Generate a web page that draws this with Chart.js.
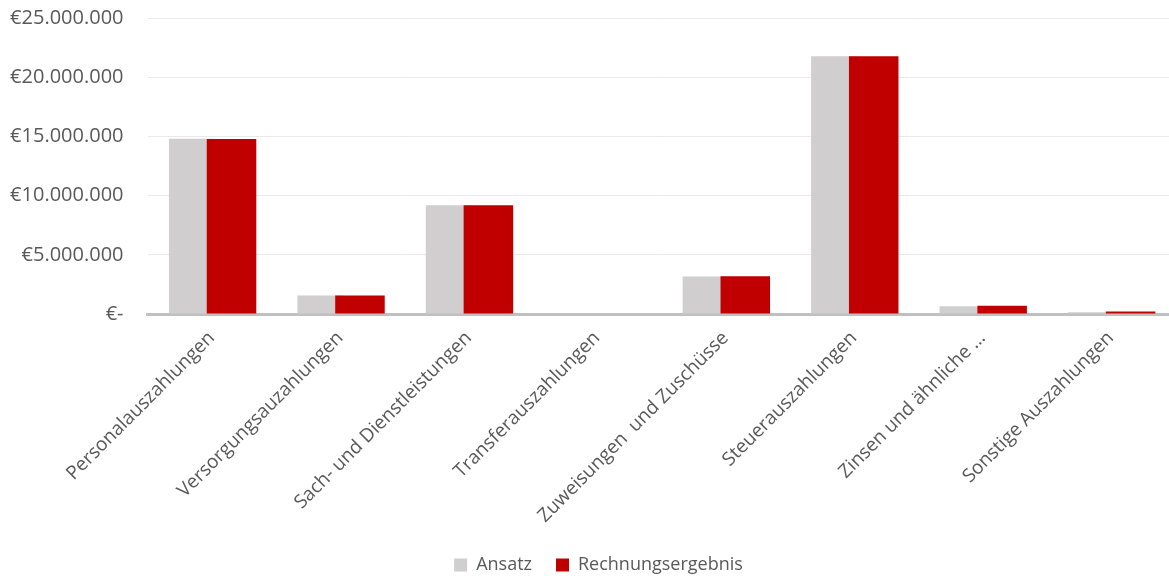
<!DOCTYPE html>
<html>
<head>
<meta charset="utf-8">
<script src="https://cdn.jsdelivr.net/npm/chart.js@4"></script>
<style>
  html, body { margin: 0; padding: 0; background: #fff; overflow: hidden; }
  #wrap { width: 1175px; height: 576px; overflow: hidden; }
</style>
</head>
<body>
<div id="wrap"><canvas id="chart" width="1175" height="584"></canvas></div>
<script>
// Chart data
const categories = [
    'Personalauszahlungen',
    'Versorgungsauzahlungen',
    'Sach- und Dienstleistungen',
    'Transferauszahlungen',
    'Zuweisungen  und Zuschüsse',
    'Steuerauszahlungen',
    'Zinsen und ähnliche …',
    'Sonstige Auszahlungen'
];
const ansatz = [14800000, 1560000, 9190000, 0, 3170000, 21770000, 650000, 150000];
const rechnungsergebnis = [14790000, 1560000, 9190000, 0, 3180000, 21770000, 700000, 220000];
const yTicks = [0, 5000000, 10000000, 15000000, 20000000, 25000000];

const textColor = '#595959';
const fontFamily = "'Open Sans', 'Liberation Sans', sans-serif";

function euro(v) {
    if (v === 0) return '€-';
    return '€' + String(v).replace(/\B(?=(\d{3})+(?!\d))/g, '.');
}

// legend in the original sits a bit right of the canvas centre
const legendShift = {
    id: 'legendShift',
    afterLayout(chart) {
        chart.legend.left += 11;
        chart.legend.right += 11;
    }
};

function drawChart() {
    const canvas = document.getElementById('chart');
    const ctx = canvas.getContext('2d');
    new Chart(ctx, {
        type: 'bar',
        data: {
            labels: categories,
            datasets: [{
                label: 'Ansatz',
                data: ansatz,
                backgroundColor: '#d0cece',
                stack: 'a',
                order: 1,
                categoryPercentage: 0.617,
                barPercentage: 1.16
            }, {
                label: 'Rechnungsergebnis',
                data: rechnungsergebnis,
                backgroundColor: '#c00000',
                stack: 'b',
                order: 0,
                categoryPercentage: 0.617,
                barPercentage: 1.25
            }, {
                // empty helper so grey sits left but red is painted on top
                label: '',
                data: categories.map(() => null),
                stack: 'a',
                order: -1,
                categoryPercentage: 0.617,
                barPercentage: 1.16
            }]
        },
        plugins: [legendShift],
        options: {
            responsive: false,
            animation: false,
            layout: { padding: { top: 0, left: 0, right: 0, bottom: 0 } },
            scales: {
                y: {
                    stacked: false,
                    min: 0,
                    max: 25000000,
                    afterBuildTicks: s => { s.ticks = yTicks.map(v => ({ value: v })); },
                    afterFit: s => {
                        s.width = 147.5;
                        s.paddingTop = 18;
                        s.paddingBottom = 0;
                    },
                    ticks: {
                        padding: 24,
                        color: textColor,
                        font: { family: fontFamily, size: 20 },
                        callback: v => euro(v)
                    },
                    grid: { color: '#e9e9e9', lineWidth: 1, drawTicks: false },
                    border: { display: false }
                },
                x: {
                    afterFit: s => { s.height = 218; },
                    ticks: {
                        minRotation: 45,
                        maxRotation: 45,
                        autoSkip: false,
                        padding: 13,
                        color: textColor,
                        font: { family: fontFamily, size: 19 }
                    },
                    grid: { display: false, drawTicks: false },
                    border: { color: '#c0c0c0', width: 3 }
                }
            },
            plugins: {
                tooltip: { enabled: false },
                legend: {
                    position: 'bottom',
                    labels: {
                        boxWidth: 13,
                        boxHeight: 13,
                        padding: 24,
                        color: textColor,
                        font: { family: fontFamily, size: 18 },
                        filter: item => item.datasetIndex !== 2,
                        sort: (a, b) => a.datasetIndex - b.datasetIndex
                    }
                }
            }
        }
    });
}

window.onload = function() {
    drawChart();
};
</script>
</body>
</html>
